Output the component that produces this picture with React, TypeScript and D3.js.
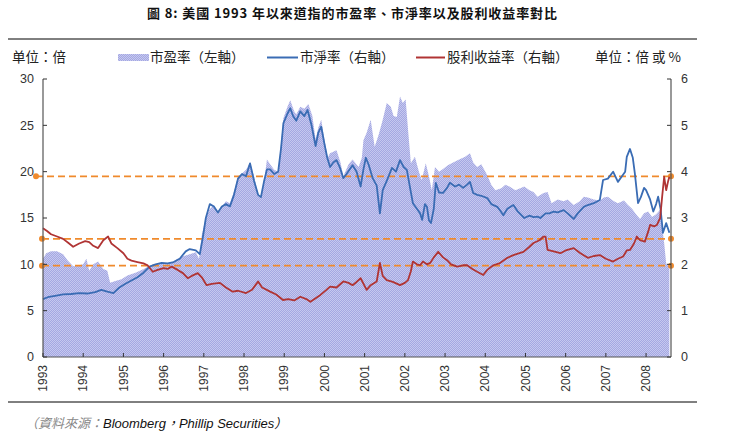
import React from "react";
import * as d3 from "d3";

// ---- Data ----
const yearTicks = [1993, 1994, 1995, 1996, 1997, 1998, 1999, 2000, 2001, 2002, 2003, 2004, 2005, 2006, 2007, 2008];
const leftTicks = [0, 5, 10, 15, 20, 25, 30];
const rightTicks = [0, 1, 2, 3, 4, 5, 6];

// P/E (left axis)
const peDates = [1993.0, 1993.08, 1993.2, 1993.35, 1993.5, 1993.62, 1993.75, 1993.9, 1994.0, 1994.08, 1994.15, 1994.25, 1994.37, 1994.5, 1994.6, 1994.67, 1994.8, 1994.95, 1995.1, 1995.3, 1995.45, 1995.6, 1995.75, 1995.9, 1996.05, 1996.2, 1996.35, 1996.5, 1996.65, 1996.8, 1996.88, 1996.95, 1997.05, 1997.15, 1997.25, 1997.35, 1997.45, 1997.55, 1997.65, 1997.75, 1997.85, 1997.95, 1998.05, 1998.15, 1998.25, 1998.35, 1998.42, 1998.5, 1998.57, 1998.65, 1998.75, 1998.85, 1998.92, 1998.98, 1999.08, 1999.15, 1999.25, 1999.3, 1999.4, 1999.5, 1999.6, 1999.7, 1999.78, 1999.85, 1999.92, 2000.0, 2000.08, 2000.14, 2000.3, 2000.4, 2000.47, 2000.6, 2000.7, 2000.85, 2000.93, 2000.97, 2001.05, 2001.15, 2001.25, 2001.35, 2001.45, 2001.55, 2001.65, 2001.72, 2001.8, 2001.88, 2001.95, 2002.02, 2002.08, 2002.15, 2002.25, 2002.35, 2002.42, 2002.52, 2002.6, 2002.67, 2002.75, 2002.85, 2002.95, 2003.07, 2003.2, 2003.35, 2003.5, 2003.62, 2003.7, 2003.8, 2003.9, 2004.05, 2004.15, 2004.25, 2004.4, 2004.5, 2004.6, 2004.75, 2004.87, 2004.97, 2005.1, 2005.2, 2005.3, 2005.45, 2005.55, 2005.65, 2005.8, 2005.95, 2006.05, 2006.2, 2006.35, 2006.45, 2006.55, 2006.7, 2006.85, 2006.95, 2007.05, 2007.2, 2007.3, 2007.45, 2007.55, 2007.65, 2007.75, 2007.85, 2007.95, 2008.05, 2008.15, 2008.25, 2008.35, 2008.4, 2008.45, 2008.5, 2008.58];
const peValues = [10.6, 11.2, 11.4, 11.4, 11.1, 10.4, 9.8, 9.9, 10.0, 10.6, 9.3, 10.0, 10.3, 9.5, 9.3, 8.0, 8.2, 8.4, 8.8, 9.1, 9.4, 9.7, 10.0, 10.1, 10.0, 10.2, 10.6, 10.9, 11.1, 11.3, 10.6, 13.2, 15.0, 16.0, 16.4, 15.6, 16.2, 16.8, 16.6, 17.8, 19.5, 19.8, 20.2, 21.0, 19.5, 17.6, 17.2, 19.0, 21.3, 20.8, 20.2, 20.0, 23.0, 25.8, 27.0, 27.7, 26.5, 26.2, 27.0, 26.8, 27.3, 26.0, 23.5, 24.8, 25.6, 23.5, 21.5, 22.0, 22.3, 21.0, 19.5, 20.8, 21.3, 20.5, 21.5, 23.4, 24.2, 25.6, 22.7, 24.0, 25.6, 27.4, 27.0, 26.0, 25.9, 28.1, 27.4, 27.8, 24.5, 20.9, 21.6, 20.0, 19.1, 20.9, 19.5, 18.0, 20.5, 20.0, 20.3, 20.7, 21.0, 21.3, 21.6, 22.0, 21.0, 20.5, 20.8, 19.6, 18.6, 18.0, 18.2, 18.6, 18.4, 18.0, 18.2, 18.4, 18.0, 17.8, 17.3, 17.7, 17.8, 16.6, 17.0, 16.8, 17.0, 16.4, 16.8, 17.3, 17.2, 17.0, 16.9, 17.2, 17.3, 16.8, 16.6, 16.9, 16.4, 16.0, 15.4, 14.9, 15.5, 15.7, 15.1, 15.4, 15.9, 14.0, 12.3, 10.1, 9.8];

// P/B (right axis)
const pbDates = [1993.0, 1993.15, 1993.3, 1993.5, 1993.7, 1993.9, 1994.1, 1994.3, 1994.45, 1994.6, 1994.75, 1994.9, 1995.05, 1995.2, 1995.35, 1995.5, 1995.65, 1995.8, 1995.95, 1996.1, 1996.25, 1996.4, 1996.55, 1996.65, 1996.8, 1996.9, 1996.97, 1997.05, 1997.15, 1997.25, 1997.35, 1997.45, 1997.55, 1997.65, 1997.75, 1997.85, 1997.95, 1998.05, 1998.15, 1998.25, 1998.35, 1998.42, 1998.5, 1998.57, 1998.65, 1998.75, 1998.85, 1998.92, 1998.98, 1999.08, 1999.15, 1999.22, 1999.3, 1999.4, 1999.5, 1999.58, 1999.68, 1999.78, 1999.85, 1999.92, 2000.0, 2000.07, 2000.14, 2000.22, 2000.3, 2000.38, 2000.47, 2000.55, 2000.63, 2000.7, 2000.8, 2000.9, 2000.97, 2001.03, 2001.1, 2001.2, 2001.3, 2001.38, 2001.45, 2001.55, 2001.68, 2001.78, 2001.88, 2001.97, 2002.05, 2002.12, 2002.2, 2002.3, 2002.38, 2002.43, 2002.5, 2002.55, 2002.6, 2002.65, 2002.72, 2002.77, 2002.85, 2002.95, 2003.05, 2003.12, 2003.25, 2003.35, 2003.45, 2003.55, 2003.62, 2003.7, 2003.8, 2003.9, 2004.05, 2004.15, 2004.3, 2004.38, 2004.45, 2004.55, 2004.7, 2004.8, 2004.9, 2004.97, 2005.1, 2005.2, 2005.3, 2005.37, 2005.5, 2005.6, 2005.7, 2005.8, 2005.95, 2006.05, 2006.2, 2006.3, 2006.45, 2006.55, 2006.7, 2006.85, 2006.93, 2007.05, 2007.18, 2007.3, 2007.4, 2007.48, 2007.52, 2007.6, 2007.67, 2007.72, 2007.8, 2007.87, 2007.95, 2008.0, 2008.1, 2008.18, 2008.25, 2008.3, 2008.36, 2008.42, 2008.5, 2008.58];
const pbValues = [1.25, 1.3, 1.32, 1.35, 1.36, 1.38, 1.37, 1.4, 1.45, 1.41, 1.38, 1.5, 1.58, 1.65, 1.72, 1.82, 1.95, 2.0, 2.03, 2.02, 2.05, 2.12, 2.28, 2.33, 2.3, 2.22, 2.55, 3.0, 3.3, 3.25, 3.12, 3.25, 3.3, 3.25, 3.5, 3.85, 3.95, 3.9, 4.18, 3.8, 3.5, 3.45, 3.8, 4.05, 4.05, 3.95, 4.0, 4.5, 5.05, 5.25, 5.37, 5.2, 5.1, 5.3, 5.2, 5.33, 5.0, 4.55, 4.85, 4.97, 4.6, 4.3, 4.1, 4.2, 4.25, 4.1, 3.86, 3.95, 4.05, 4.14, 4.0, 3.68, 4.05, 4.3, 4.15, 3.86, 3.7, 3.1, 3.6, 3.8, 4.08, 4.0, 4.25, 4.1, 4.04, 3.7, 3.32, 3.2, 3.1, 2.96, 3.3, 3.24, 2.95, 2.89, 3.2, 3.76, 3.55, 3.54, 3.65, 3.76, 3.68, 3.72, 3.65, 3.72, 3.78, 3.54, 3.5, 3.48, 3.43, 3.3, 3.24, 3.15, 3.06, 3.2, 3.28, 3.15, 3.06, 3.0, 3.05, 3.02, 3.03, 3.0, 3.1, 3.1, 3.14, 3.12, 3.17, 3.1, 2.98, 3.1, 3.24, 3.28, 3.32, 3.39, 3.82, 3.85, 4.0, 3.78, 3.9, 4.0, 4.32, 4.49, 4.3, 3.97, 3.32, 3.45, 3.65, 3.6, 3.4, 3.14, 3.3, 3.46, 3.2, 2.68, 2.89, 2.68];

// Dividend yield (right axis)
const dyDates = [1993.0, 1993.1, 1993.2, 1993.35, 1993.5, 1993.65, 1993.75, 1993.9, 1994.05, 1994.15, 1994.25, 1994.37, 1994.5, 1994.62, 1994.7, 1994.85, 1995.0, 1995.1, 1995.2, 1995.35, 1995.5, 1995.6, 1995.73, 1995.85, 1996.0, 1996.1, 1996.2, 1996.35, 1996.48, 1996.6, 1996.7, 1996.85, 1996.95, 1997.07, 1997.2, 1997.4, 1997.55, 1997.72, 1997.85, 1998.05, 1998.2, 1998.35, 1998.45, 1998.65, 1998.8, 1998.97, 1999.1, 1999.25, 1999.4, 1999.55, 1999.65, 1999.8, 1999.9, 2000.05, 2000.14, 2000.3, 2000.47, 2000.6, 2000.7, 2000.8, 2000.9, 2001.05, 2001.15, 2001.3, 2001.38, 2001.45, 2001.55, 2001.7, 2001.88, 2002.0, 2002.08, 2002.15, 2002.2, 2002.3, 2002.38, 2002.45, 2002.55, 2002.63, 2002.72, 2002.83, 2002.95, 2003.05, 2003.15, 2003.3, 2003.45, 2003.55, 2003.68, 2003.8, 2003.95, 2004.05, 2004.2, 2004.35, 2004.55, 2004.7, 2004.85, 2004.95, 2005.1, 2005.2, 2005.35, 2005.45, 2005.5, 2005.55, 2005.7, 2005.87, 2006.0, 2006.2, 2006.35, 2006.55, 2006.7, 2006.85, 2007.0, 2007.18, 2007.3, 2007.43, 2007.52, 2007.6, 2007.7, 2007.77, 2007.85, 2007.97, 2008.05, 2008.1, 2008.2, 2008.27, 2008.35, 2008.4, 2008.45, 2008.5, 2008.55, 2008.58];
const dyValues = [2.78, 2.72, 2.65, 2.6, 2.55, 2.45, 2.38, 2.45, 2.5, 2.48, 2.4, 2.35, 2.52, 2.6, 2.45, 2.35, 2.24, 2.12, 2.08, 2.05, 2.02, 1.98, 1.84, 1.88, 1.92, 1.9, 1.95, 1.88, 1.81, 1.7, 1.75, 1.81, 1.72, 1.55, 1.58, 1.6, 1.5, 1.41, 1.43, 1.38, 1.45, 1.63, 1.5, 1.41, 1.35, 1.23, 1.25, 1.22, 1.3, 1.25, 1.19, 1.28, 1.34, 1.45, 1.52, 1.5, 1.63, 1.6, 1.55, 1.62, 1.7, 1.45, 1.55, 1.63, 2.03, 1.75, 1.66, 1.62, 1.55, 1.6, 1.66, 1.85, 2.06, 2.0, 1.98, 2.06, 2.0, 2.03, 2.15, 2.27, 2.15, 2.09, 2.0, 1.95, 1.98, 1.98, 1.9, 1.84, 1.77, 1.88, 1.98, 2.02, 2.14, 2.2, 2.24, 2.27, 2.38, 2.46, 2.52, 2.6, 2.6, 2.31, 2.28, 2.24, 2.3, 2.35, 2.25, 2.14, 2.18, 2.2, 2.12, 2.06, 2.12, 2.17, 2.3, 2.31, 2.45, 2.6, 2.52, 2.49, 2.7, 2.85, 2.82, 2.85, 3.0, 3.46, 3.89, 3.6, 3.8, 3.89];

// Reference lines (right-axis units)
const refValues = [3.9, 2.55, 1.97];

const legendItems = ["市盈率（左軸）", "市淨率（右軸）", "股利收益率（右軸）"];

const CJK = "'Noto Sans CJK TC', 'Noto Sans CJK SC', sans-serif";
const LATIN = "'Liberation Sans', Arial, sans-serif";

export default function App() {
  const W = 731, H = 440;
  const left = 43, right = 671, top = 79, bottom = 357;
  const x = d3.scaleLinear().domain([1993, 2008.62]).range([left, right]);
  const yL = d3.scaleLinear().domain([0, 30]).range([bottom, top]);
  const yR = d3.scaleLinear().domain([0, 6]).range([bottom, top]);

  const pe = peDates.map((d, i) => [d, peValues[i]] as [number, number]);
  const pb = pbDates.map((d, i) => [d, pbValues[i]] as [number, number]);
  const dy = dyDates.map((d, i) => [d, dyValues[i]] as [number, number]);

  const area = d3.area<[number, number]>()
    .x(d => x(d[0])).y0(yL(0)).y1(d => yL(d[1]));
  const lineR = d3.line<[number, number]>().x(d => x(d[0])).y(d => yR(d[1]));

  const blue = "#3a6cb4";
  const red = "#b03434";
  const orange = "#f08a2c";

  return (
    <svg width={W} height={H} style={{ position: "absolute", left: 0, top: 0, background: "#fff" }}>
      <defs>
        <pattern id="peFill" width="2" height="2" patternUnits="userSpaceOnUse">
          <rect width="2" height="2" fill="#a4a8e2" />
          <rect width="1" height="1" fill="#c6c8ef" />
          <rect x="1" y="1" width="1" height="1" fill="#c6c8ef" />
        </pattern>
      </defs>
      <rect width={W} height={H} fill="#fff" />

      {/* Title */}
      <text x={147} y={18} fontFamily={CJK} fontWeight="bold" fontSize={13} fill="#111"
        textLength={410} lengthAdjust="spacing">圖 8: 美國 1993 年以來道指的市盈率、市淨率以及股利收益率對比</text>
      <line x1={8} x2={697} y1={39} y2={39} stroke="#000" strokeWidth={1} />

      {/* Legend row */}
      <text x={12} y={62} fontFamily={CJK} fontSize={13.5} fill="#222">单位：倍</text>
      <rect x={118} y={54} width={31} height={7} fill="url(#peFill)" />
      <text x={150} y={62} fontFamily={CJK} fontSize={13.5} fill="#222">{legendItems[0]}</text>
      <line x1={267} x2={298} y1={57.5} y2={57.5} stroke={blue} strokeWidth={2} />
      <text x={300} y={62} fontFamily={CJK} fontSize={13.5} fill="#222">{legendItems[1]}</text>
      <line x1={416} x2={445} y1={57.5} y2={57.5} stroke={red} strokeWidth={2} />
      <text x={447} y={62} fontFamily={CJK} fontSize={13.5} fill="#222">{legendItems[2]}</text>
      <text x={595} y={62} fontFamily={CJK} fontSize={13.5} fill="#222">单位：倍 或 %</text>

      {/* PE area */}
      <path d={area(pe) ?? ""} fill="url(#peFill)" stroke="none" />

      {/* Reference dashed lines */}
      {refValues.map((v, i) => (
        <g key={i}>
          <line x1={i === 0 ? 36 : 42} x2={right} y1={yR(v)} y2={yR(v)} stroke={orange}
            strokeWidth={1.8} strokeDasharray="7 4" />
          <circle cx={i === 0 ? 36 : 42} cy={yR(v)} r={3} fill={orange} />
          <circle cx={right} cy={yR(v)} r={3} fill={orange} />
        </g>
      ))}

      {/* Series lines */}
      <path d={lineR(pb) ?? ""} fill="none" stroke={blue} strokeWidth={1.8} strokeLinejoin="round" />
      <path d={lineR(dy) ?? ""} fill="none" stroke={red} strokeWidth={1.8} strokeLinejoin="round" />

      {/* Axes */}
      <line x1={left} x2={left} y1={top} y2={bottom} stroke="#555" strokeWidth={1.2} />
      <line x1={right} x2={right} y1={top} y2={bottom} stroke="#555" strokeWidth={1.2} />
      <line x1={left} x2={right} y1={bottom} y2={bottom} stroke="#555" strokeWidth={1.2} />

      {leftTicks.map(t => (
        <g key={"l" + t}>
          <line x1={left} x2={left + 4} y1={yL(t)} y2={yL(t)} stroke="#333" />
          <text x={34} y={yL(t)} dy="0.35em" textAnchor="end" fontFamily={LATIN} fontSize={12.5} fill="#333">{t}</text>
        </g>
      ))}
      {rightTicks.map(t => (
        <g key={"r" + t}>
          <line x1={right - 4} x2={right} y1={yR(t)} y2={yR(t)} stroke="#333" />
          <text x={681} y={yR(t)} dy="0.35em" textAnchor="start" fontFamily={LATIN} fontSize={12.5} fill="#333">{t}</text>
        </g>
      ))}
      {yearTicks.map(t => (
        <g key={"x" + t}>
          <line x1={x(t)} x2={x(t)} y1={bottom} y2={bottom - 4} stroke="#333" />
          <text transform={`translate(${x(t)},365) rotate(-90)`} dy="0.35em" textAnchor="end"
            fontFamily={LATIN} fontSize={12} fill="#333">{t}</text>
        </g>
      ))}

      {/* Footer */}
      <line x1={8} x2={697} y1={402} y2={402} stroke="#000" strokeWidth={1} />
      <text x={25} y={428} fontSize={13} fontStyle="italic">
        <tspan fontFamily={CJK} fill="#888">（資料來源：</tspan>
        <tspan fontFamily={LATIN} fill="#111">Bloomberg</tspan>
        <tspan fontFamily={CJK} fill="#111">，</tspan>
        <tspan fontFamily={LATIN} fill="#111">Phillip Securities</tspan>
        <tspan fontFamily={CJK} fill="#111">）</tspan>
      </text>
    </svg>
  );
}
